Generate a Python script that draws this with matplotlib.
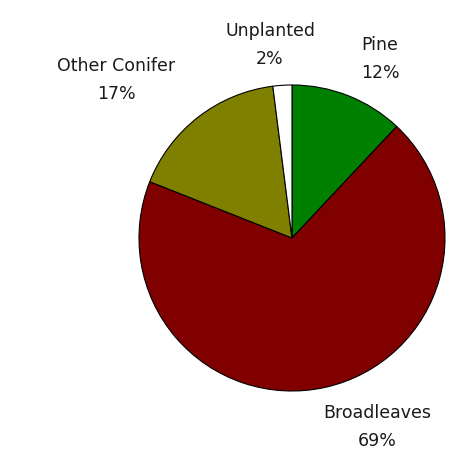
import matplotlib
matplotlib.use('Agg')
import matplotlib.pyplot as plt

labels = ['Pine', 'Broadleaves', 'Other Conifer', 'Unplanted']
shares = [12, 69, 17, 2]
colors = ['#008000', '#800000', '#808000', '#ffffff']

# label centres in pixels of the 473x462 image
label_px = [(380, 59), (377, 427), (116, 80), (270, 45)]

W, H = 473, 462
cx, cy, r = 292, 238, 153

fig = plt.figure(figsize=(W / 100, H / 100), dpi=100)
ax = fig.add_axes([(cx - r) / W, (H - cy - r) / H, 2 * r / W, 2 * r / H])
ax.pie(shares, colors=colors, startangle=90, counterclock=False,
       wedgeprops=dict(edgecolor='black', linewidth=0.8))
ax.set_xlim(-1, 1)
ax.set_ylim(-1, 1)
ax.set_aspect('equal')

for name, val, (px, py) in zip(labels, shares, label_px):
    fig.text(px / W, 1 - py / H, f'{name}\n{val}%', ha='center', va='center',
             fontsize=12.5, family='DejaVu Sans', color='#1a1a1a', linespacing=1.65)

fig.savefig('out.png', dpi=100)
